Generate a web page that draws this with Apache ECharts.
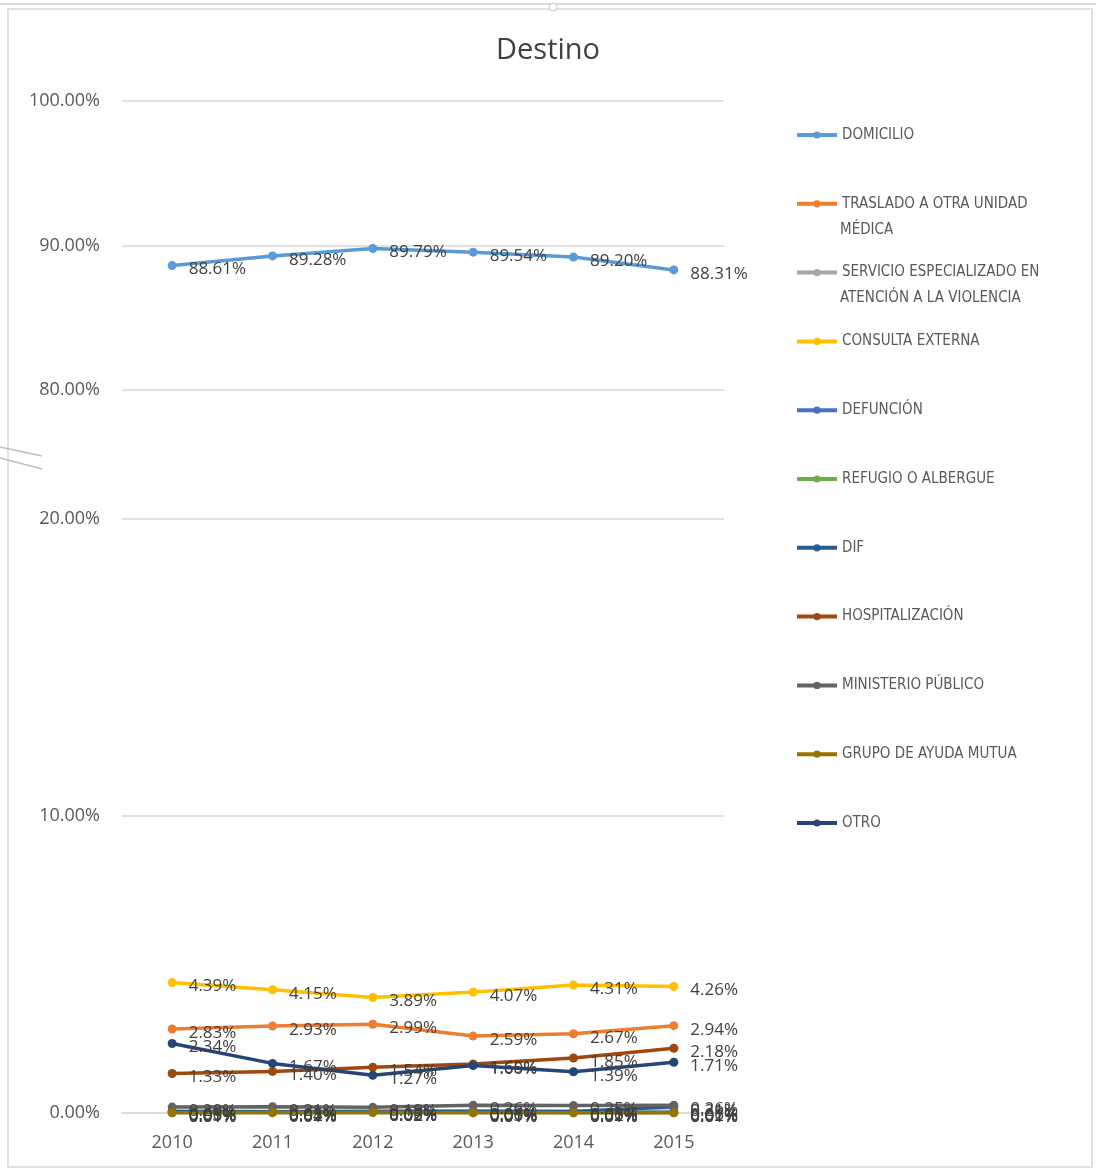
<!DOCTYPE html>
<html>
<head>
<meta charset="utf-8"/>
<script src="https://cdn.jsdelivr.net/npm/echarts@6/dist/echarts.min.js"></script>
<style>
  html, body { margin: 0; padding: 0; background: #fff; }
  #main { width: 1096px; height: 1171px; }
</style>
</head>
<body>
<div id="main"></div>
<script type="text/javascript">
// años y valores (%)
var years = ['2010', '2011', '2012', '2013', '2014', '2015'];
var domicilio   = [88.61, 89.28, 89.79, 89.54, 89.20, 88.31];
var traslado    = [2.83, 2.93, 2.99, 2.59, 2.67, 2.94];
var servicio    = [0.06, 0.05, 0.06, 0.06, 0.06, 0.06];
var consulta    = [4.39, 4.15, 3.89, 4.07, 4.31, 4.26];
var defuncion   = [0.03, 0.02, 0.02, 0.03, 0.02, 0.02];
var refugio     = [0.01, 0.01, 0.02, 0.01, 0.01, 0.01];
var dif         = [0.05, 0.04, 0.05, 0.06, 0.05, 0.21];
var hospital    = [1.33, 1.40, 1.54, 1.65, 1.85, 2.18];
var ministerio  = [0.20, 0.21, 0.19, 0.26, 0.25, 0.26];
var grupo       = [0.01, 0.02, 0.02, 0.01, 0.01, 0.01];
var otro        = [2.34, 1.67, 1.27, 1.60, 1.39, 1.71];

var upperTicks = [80, 90, 100];
var lowerTicks = [0, 10, 20];

var names = ['DOMICILIO', 'TRASLADO A OTRA UNIDAD MÉDICA',
  'SERVICIO ESPECIALIZADO EN ATENCIÓN A LA VIOLENCIA', 'CONSULTA EXTERNA',
  'DEFUNCIÓN', 'REFUGIO O ALBERGUE', 'DIF', 'HOSPITALIZACIÓN',
  'MINISTERIO PÚBLICO', 'GRUPO DE AYUDA MUTUA', 'OTRO'];
var values = [domicilio, traslado, servicio, consulta, defuncion, refugio,
  dif, hospital, ministerio, grupo, otro];
var colors = ['#5B9BD5', '#ED7D31', '#A5A5A5', '#FFC000', '#4472C4', '#70AD47',
  '#255E91', '#9E480E', '#636363', '#997300', '#264478'];

// primera línea de las leyendas largas (la segunda va como texto aparte)
var firstLine = {
  'TRASLADO A OTRA UNIDAD MÉDICA': 'TRASLADO A OTRA UNIDAD',
  'SERVICIO ESPECIALIZADO EN ATENCIÓN A LA VIOLENCIA': 'SERVICIO ESPECIALIZADO EN'
};

var labelFont = "'Open Sans', 'Liberation Sans', sans-serif";
var legendFont = "'Liberation Sans Narrow', 'DejaVu Sans Condensed', sans-serif";

var series = names.map(function (n, i) {
  var upper = i === 0;
  return {
    name: n,
    type: 'line',
    xAxisIndex: upper ? 0 : 1,
    yAxisIndex: upper ? 0 : 1,
    data: values[i],
    symbol: 'circle',
    symbolSize: 9,
    color: colors[i],
    lineStyle: { width: 3.5, color: colors[i] },
    itemStyle: { color: colors[i] },
    label: {
      show: true,
      position: 'right',
      distance: 12,
      offset: [0, 4],
      color: '#404040',
      fontSize: 17,
      fontFamily: labelFont,
      formatter: function (p) { return p.value.toFixed(2) + '%'; }
    },
    emphasis: { disabled: true },
    animation: false
  };
});

var yLabel = {
  color: '#595959',
  fontSize: 18,
  fontFamily: labelFont,
  margin: 22,
  formatter: function (v) { return v.toFixed(2) + '%'; }
};
var split = { show: true, lineStyle: { color: '#d9d9d9', width: 1.5 } };

var myChart = echarts.init(document.getElementById('main'));
var options = {
  backgroundColor: '#fff',
  title: {
    text: 'Destino',
    left: 'center',
    top: 31,
    textStyle: { color: '#404040', fontSize: 29, fontWeight: 'normal', fontFamily: labelFont }
  },
  grid: [
    { left: 122, right: 372, top: 101, height: 289 },
    { left: 122, right: 372, top: 519, height: 594 }
  ],
  xAxis: [
    { gridIndex: 0, type: 'category', data: years, show: false },
    {
      gridIndex: 1, type: 'category', data: years,
      axisLine: { lineStyle: { color: '#d9d9d9', width: 1.5 } },
      axisTick: { show: false },
      axisLabel: { color: '#595959', fontSize: 18, fontFamily: labelFont, margin: 21 }
    }
  ],
  yAxis: [
    {
      gridIndex: 0, type: 'value', min: upperTicks[0], max: upperTicks[2], interval: 10,
      axisLine: { show: false }, axisTick: { show: false },
      axisLabel: yLabel, splitLine: split
    },
    {
      gridIndex: 1, type: 'value', min: lowerTicks[0], max: lowerTicks[2], interval: 10,
      axisLine: { show: false }, axisTick: { show: false },
      axisLabel: yLabel, splitLine: split
    }
  ],
  legend: {
    orient: 'vertical',
    left: 795,
    top: 127,
    padding: 0,
    itemGap: 52.8,
    itemWidth: 40,
    itemHeight: 9,
    selectedMode: false,
    data: names,
    lineStyle: { width: 4 },
    textStyle: { color: '#595959', fontSize: 15, lineHeight: 16, fontFamily: legendFont },
    formatter: function (n) { return firstLine[n] || n; }
  },
  graphic: [
    { type: 'text', left: 840, top: 223, silent: true,
      style: { text: 'MÉDICA', fill: '#595959', fontSize: 15, fontFamily: legendFont } },
    { type: 'text', left: 840, top: 291, silent: true,
      style: { text: 'ATENCIÓN A LA VIOLENCIA', fill: '#595959', fontSize: 15, fontFamily: legendFont } },
    // marco del gráfico
    { type: 'rect', silent: true, shape: { x: 8, y: 9, width: 1084, height: 1158 },
      style: { fill: 'none', stroke: '#d9d9d9', lineWidth: 1.5 } },
    { type: 'line', silent: true, shape: { x1: 0, y1: 4, x2: 1096, y2: 4 },
      style: { stroke: '#d0d0d0', lineWidth: 1.5 } },
    { type: 'circle', silent: true, shape: { cx: 553, cy: 7, r: 4 },
      style: { fill: '#fff', stroke: '#c8c8c8', lineWidth: 1 } },
    // marcas de corte del eje
    { type: 'line', silent: true, shape: { x1: 0, y1: 447, x2: 42, y2: 456 },
      style: { stroke: '#bfbfbf', lineWidth: 1.5 } },
    { type: 'line', silent: true, shape: { x1: 0, y1: 458, x2: 42, y2: 469 },
      style: { stroke: '#bfbfbf', lineWidth: 1.5 } }
  ],
  series: series
};
myChart.setOption(options);
</script>
</body>
</html>
